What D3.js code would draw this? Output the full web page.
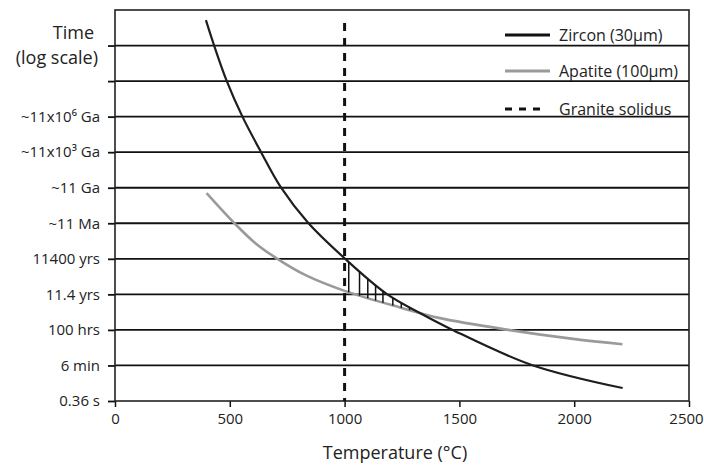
<!DOCTYPE html>
<html>
<head>
<meta charset="utf-8">
<script src="https://cdn.jsdelivr.net/npm/d3@7"></script>
<style>
  body { margin: 0; background: #fff; }
  text { font-family: "Open Sans", sans-serif; fill: #222; }
</style>
</head>
<body>
<div id="chart"></div>
<script>

var height = 468,
    width = 704;

// temperature (°C) and log10(time in seconds)
var zirconTemp = [396, 431, 486, 554, 635, 722, 841, 1000, 1183, 1336, 1466, 1815, 2211];
var zirconLogT = [31.7, 29.6, 26.6, 23.6, 20.6, 17.6, 14.6, 11.6, 8.6, 6.9, 5.6, 2.6, 0.65];

var apatiteTemp = [399, 523, 610, 704, 828, 1000, 1241, 1416, 1706, 1995, 2210];
var apatiteLogT = [17.1, 14.5, 12.9, 11.6, 10.2, 8.85, 7.45, 6.55, 5.58, 4.8, 4.35];

var solidusTemp = 1000;

// hatch marks between the two curves right of the solidus
var hatchTemp = [1018, 1065, 1101, 1135, 1167, 1210, 1247, 1283];

// x ticks
var xTicks = [0, 500, 1000, 1500, 2000, 2500];

// y ticks, each step is x1000 in time starting at 0.36 s
var yTickLabels = ["0.36 s", "6 min", "100 hrs", "11.4 yrs", "11400 yrs", "~11 Ma",
                   "~11 Ga", "~11x10\u00b3 Ga", "~11x10\u2076 Ga", "", ""];
var yTicks = yTickLabels.map(function(d, i) { return Math.log10(0.36) + 3 * i; });

var legendItems = ["Zircon (30\u03bcm)", "Apatite (100\u03bcm)", "Granite solidus"];

var svg = d3.select("#chart").append("svg")
        .attr("height", height)
        .attr("width", width);

var x = d3.scaleLinear().domain([0, 2500]).range([115, 689]);
var y = d3.scaleLinear().domain([Math.log10(0.36), Math.log10(0.36) + 33]).range([401, 10]);

//gridlines
svg.append("g")
    .selectAll("line")
    .data(yTicks.slice(1))
    .enter().append("line")
    .attr("x1", x(0))
    .attr("x2", x(2500))
    .attr("y1", function(d) { return y(d); })
    .attr("y2", function(d) { return y(d); })
    .attr("stroke", "#111")
    .attr("stroke-width", 1.8);

//y axis
var yAxis = svg.append("g")
    .attr("transform", "translate(" + x(0) + ",0)")
    .call(d3.axisLeft(y).tickValues(yTicks).tickSize(7).tickPadding(8)
        .tickFormat(function(d, i) { return yTickLabels[i]; }));
yAxis.select(".domain").remove();
yAxis.selectAll("line").attr("stroke", "#111").attr("stroke-width", 1.8);
yAxis.selectAll("text")
    .attr("font-family", "Open Sans, sans-serif")
    .attr("font-size", "15px")
    .attr("fill", "#222");

//x axis
var xAxis = svg.append("g")
    .attr("transform", "translate(0," + y.range()[0] + ")")
    .call(d3.axisBottom(x).tickValues(xTicks).tickSize(6).tickPadding(6)
        .tickFormat(d3.format("d")));
xAxis.select(".domain").remove();
xAxis.selectAll("line").attr("stroke", "#111").attr("stroke-width", 1.5);
xAxis.selectAll("text")
    .attr("font-family", "Open Sans, sans-serif")
    .attr("font-size", "15px")
    .attr("fill", "#222")
    .attr("dx", function(d) { return d == 2500 ? -3 : 0; });

//frame
svg.append("rect")
    .attr("x", x(0))
    .attr("y", y.range()[1])
    .attr("width", x(2500) - x(0))
    .attr("height", y.range()[0] - y.range()[1])
    .attr("fill", "none")
    .attr("stroke", "#222")
    .attr("stroke-width", 1.6);

var line = d3.line()
    .x(function(d) { return x(d[0]); })
    .y(function(d) { return y(d[1]); })
    .curve(d3.curveCatmullRom.alpha(0.5));

//apatite curve
var apatitePath = svg.append("path")
    .datum(d3.zip(apatiteTemp, apatiteLogT))
    .attr("d", line)
    .attr("fill", "none")
    .attr("stroke", "#9a9a9a")
    .attr("stroke-width", 2.6);

//zircon curve
var zirconPath = svg.append("path")
    .datum(d3.zip(zirconTemp, zirconLogT))
    .attr("d", line)
    .attr("fill", "none")
    .attr("stroke", "#1e1e1e")
    .attr("stroke-width", 2.2);

// find the y of a drawn path at a given pixel x
function yAtX(node, px) {
  var lo = 0, hi = node.getTotalLength(), p;
  for (var k = 0; k < 40; k++) {
    var mid = (lo + hi) / 2;
    p = node.getPointAtLength(mid);
    if (p.x < px) lo = mid; else hi = mid;
  }
  return p.y;
}

//hatching
svg.append("g")
    .selectAll("line")
    .data(hatchTemp)
    .enter().append("line")
    .attr("x1", function(d) { return x(d); })
    .attr("x2", function(d) { return x(d); })
    .attr("y1", function(d) { return yAtX(zirconPath.node(), x(d)); })
    .attr("y2", function(d) { return yAtX(apatitePath.node(), x(d)); })
    .attr("stroke", "#111")
    .attr("stroke-width", 1.5);

//granite solidus
svg.append("line")
    .attr("x1", x(solidusTemp))
    .attr("x2", x(solidusTemp))
    .attr("y1", 23)
    .attr("y2", y.range()[0])
    .attr("stroke", "#111")
    .attr("stroke-width", 3)
    .attr("stroke-dasharray", "8,7");

//legend
var legendY = [35, 71, 109];
var legend = svg.append("g").selectAll("g")
    .data(legendItems)
    .enter().append("g")
    .attr("transform", function(d, i) { return "translate(505," + legendY[i] + ")"; });

legend.append("line")
    .attr("x1", 0)
    .attr("stroke", function(d, i) { return i == 1 ? "#9a9a9a" : "#111"; })
    .attr("stroke-width", 3)
    .attr("stroke-dasharray", function(d, i) { return i == 2 ? "7,7" : null; })
    .attr("x2", function(d, i) { return i == 2 ? 38 : 45; });

legend.append("text")
    .attr("x", 54)
    .attr("dy", "0.35em")
    .attr("font-size", "16px")
    .text(function(d) { return d; });

//axis titles
svg.append("text")
    .attr("x", 395)
    .attr("y", 453)
    .attr("dy", "0.35em")
    .attr("text-anchor", "middle")
    .attr("font-size", "18px")
    .text("Temperature (\u00b0C)");

svg.append("text")
    .attr("x", 94)
    .attr("y", 33)
    .attr("dy", "0.35em")
    .attr("text-anchor", "end")
    .attr("font-size", "18px")
    .text("Time");

svg.append("text")
    .attr("x", 98)
    .attr("y", 58)
    .attr("dy", "0.35em")
    .attr("text-anchor", "end")
    .attr("font-size", "18px")
    .text("(log scale)");

</script>
</body>
</html>
